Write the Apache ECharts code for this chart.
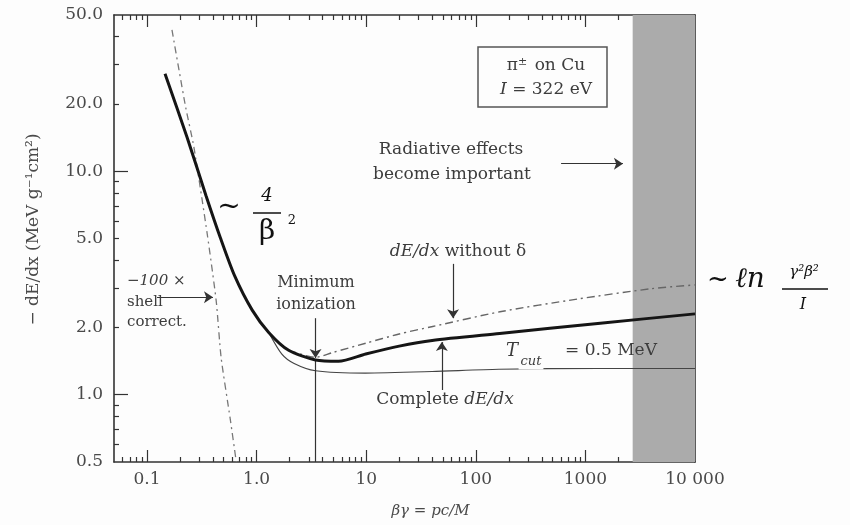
<!DOCTYPE html>
<html><head><meta charset="utf-8">
<script src="https://cdn.jsdelivr.net/npm/echarts@6/dist/echarts.min.js"></script>
<style>html,body{margin:0;padding:0;background:#fdfdfd}#c{width:850px;height:525px}</style>
</head><body><div id="c"></div>
<script>
// ---- tick positions and labels ----
const xTickValues = [0.1, 1, 10, 100, 1000, 10000];
const xTickLabels = ['0.1', '1.0', '10', '100', '1000', '10 000'];
const xMajorTicks = [0.1, 1, 10, 100, 1000];
const xMinorTicks = [0.06,0.07,0.08,0.09,0.2,0.3,0.4,0.5,0.6,0.7,0.8,0.9,2,3,4,5,6,7,8,9,20,30,40,50,60,70,80,90,200,300,400,500,600,700,800,900,2000,3000,4000,5000,6000,7000,8000,9000];
const yTickValues = [0.5, 1, 2, 5, 10, 20, 50];
const yTickLabels = ['0.5', '1.0', '2.0', '5.0', '10.0', '20.0', '50.0'];
const yMajorTicks = [1, 10];
const yMinorTicks = [0.6,0.7,0.8,0.9,2,3,4,5,6,7,8,9,20,30,40];

// ---- curves: [βγ, -dE/dx] ----
const completeDEdx = [[0.146,27.3],[0.232,14.2],[0.345,7.79],[0.467,5.04],[0.631,3.40],[0.912,2.39],[1.29,1.90],[1.96,1.58],[3.45,1.43],[5.6,1.41],[9.9,1.52],[20,1.65],[40,1.75],[165,1.88],[1367,2.09],[10000,2.30]];
const withoutDelta = [[1.96,1.58],[3.45,1.47],[4.84,1.54],[9.9,1.70],[20,1.87],[40.5,2.02],[166,2.35],[850,2.68],[3980,2.98],[10000,3.10]];
const restrictedTcut = [[1.29,1.90],[1.7,1.52],[2.2,1.38],[3.45,1.28],[9.8,1.25],[40,1.27],[162,1.30],[1320,1.31],[10000,1.31]];
const shellCorrection = [[0.169,42.9],[0.225,19.4],[0.268,12.8],[0.355,5.21],[0.428,2.63],[0.475,1.46],[0.573,0.787],[0.653,0.5]];
const radiativeRegion = [2700, 10000];
const minIonization = 3.45;

const FONT = 'DejaVu Serif';
const TXT = '#3c3c3c';
const AX = '#333';

function nearestLabel(v, vals, labels) {
  let best = 0, bd = Infinity;
  vals.forEach((t, i) => { const d = Math.abs(Math.log10(v) - Math.log10(t)); if (d < bd) { bd = d; best = i; } });
  return labels[best];
}
function xAx(pos, ticks, len, withLabels, showLine) {
  return {
    type: 'log', min: 0.05, max: 10000, position: pos,
    axisLine: { show: showLine, lineStyle: { color: AX, width: 1.6 } },
    axisTick: { show: true, inside: true, length: len, customValues: ticks, lineStyle: { color: AX, width: 1.2 } },
    axisLabel: withLabels ? { show: true, customValues: xTickValues, margin: 9, color: '#4a4a4a', fontFamily: FONT, fontSize: 17,
      formatter: v => nearestLabel(v, xTickValues, xTickLabels) } : { show: false },
    splitLine: { show: false }, minorTick: { show: false }
  };
}
function yAx(pos, ticks, len, withLabels, showLine) {
  return {
    type: 'log', min: 0.5, max: 50, position: pos,
    axisLine: { show: showLine, lineStyle: { color: AX, width: 1.6 } },
    axisTick: { show: true, inside: true, length: len, customValues: ticks, lineStyle: { color: AX, width: 1.2 } },
    axisLabel: withLabels ? { show: true, customValues: yTickValues, margin: 11, color: '#4a4a4a', fontFamily: FONT, fontSize: 17,
      formatter: v => nearestLabel(v, yTickValues, yTickLabels) } : { show: false },
    splitLine: { show: false }, minorTick: { show: false }
  };
}
function txt(x, y, text, size, extra) {
  return { type: 'text', x: x, y: y, silent: true, z: 100,
    style: Object.assign({ text: text, fontSize: size, fontFamily: FONT, fill: TXT, align: 'center', verticalAlign: 'middle' }, extra || {}) };
}
const italic = { fontStyle: 'italic', fontFamily: FONT };

const chart = echarts.init(document.getElementById('c'), null, { renderer: 'canvas' });
const curveCommon = { type: 'line', showSymbol: false, smooth: 0.25, silent: true };
chart.setOption({
  animation: false,
  backgroundColor: '#fdfdfd',
  grid: { left: 114, top: 15, width: 581, height: 447, containLabel: false },
  xAxis: [
    Object.assign(xAx('bottom', xMajorTicks, 12, true, true), {
      name: 'βγ = pc/M', nameLocation: 'middle', nameGap: 42,
      nameTextStyle: { fontFamily: FONT, fontStyle: 'italic', fontSize: 15, color: '#4a4a4a', padding: [0, 0, 0, 52] } }),
    xAx('bottom', xMinorTicks, 5, false, false),
    xAx('top', xMajorTicks, 12, false, true),
    xAx('top', xMinorTicks, 5, false, false)
  ],
  yAxis: [
    Object.assign(yAx('left', yMajorTicks, 14, true, true), {
      name: '− dE/dx (MeV g⁻¹cm²)', nameLocation: 'middle', nameGap: 72, nameRotate: 90,
      nameTextStyle: { fontFamily: FONT, fontSize: 17, color: '#4a4a4a', padding: [0, 0, 0, 18] } }),
    yAx('left', yMinorTicks, 5, false, false),
    yAx('right', yMajorTicks, 14, false, true),
    yAx('right', yMinorTicks, 5, false, false)
  ],
  series: [
    {
      name: 'Radiative region', type: 'line', data: [], silent: true,
      markArea: { silent: true, itemStyle: { color: '#ababab', opacity: 1 },
        data: [[{ xAxis: radiativeRegion[0] }, { xAxis: radiativeRegion[1] }]] }
    },
    Object.assign({}, curveCommon, {
      name: '-100 × shell correction', data: shellCorrection, smooth: 0.2,
      lineStyle: { color: '#777', width: 1.3, type: [7, 4, 2, 4] }, z: 3 }),
    Object.assign({}, curveCommon, {
      name: 'dE/dx without δ', data: withoutDelta,
      lineStyle: { color: '#666', width: 1.4, type: [8, 4, 2, 4] }, z: 3 }),
    Object.assign({}, curveCommon, {
      name: 'T_cut = 0.5 MeV', data: restrictedTcut,
      lineStyle: { color: '#444', width: 1.2 }, z: 4 }),
    Object.assign({}, curveCommon, {
      name: 'Complete dE/dx', data: completeDEdx,
      lineStyle: { color: '#151515', width: 3 }, z: 5 }),
    {
      name: 'annotations', type: 'line', data: [], silent: true, z: 6,
      markLine: {
        silent: true, symbol: ['none', 'arrow'], symbolSize: 9, label: { show: false },
        lineStyle: { color: '#333', width: 1.2, type: 'solid' }, emphasis: { disabled: true },
        data: [
          [{ coord: [minIonization, 2.2] }, { coord: [minIonization, 1.46] }],
          [{ coord: [minIonization, 1.42], symbol: 'none' }, { coord: [minIonization, 0.5], symbol: 'none' }],
          [{ coord: [62, 3.85] }, { coord: [62, 2.2] }],
          [{ coord: [49, 1.05] }, { coord: [49, 1.72] }],
          [{ coord: [0.1235, 2.73] }, { coord: [0.40, 2.73] }],
          [{ coord: [600, 10.8] }, { coord: [2200, 10.8] }]
        ]
      }
    }
  ],
  graphic: [
    { type: 'rect', silent: true, z: 100, shape: { x: 478, y: 47, width: 129, height: 60 }, style: { fill: 'none', stroke: '#555', lineWidth: 1.5 } },
    txt(546, 66, '{i|π}{s|±} on Cu', 17, { rich: { i: { fontFamily: FONT, fontSize: 17, fill: TXT }, s: { fontFamily: FONT, fontSize: 11, fill: TXT, verticalAlign: 'top', padding: [0, 2, 8, 0] } } }),
    txt(546, 90, '{i|I} = 322 eV', 17, { rich: { i: Object.assign({ fontSize: 17, fill: TXT }, italic) } }),
    txt(451, 150, 'Radiative effects', 17),
    txt(452, 175, 'become important', 17),
    txt(458, 252, '{i|dE/dx} without δ', 17, { rich: { i: Object.assign({ fontSize: 17, fill: TXT }, italic) } }),
    txt(316, 283, 'Minimum', 16),
    txt(316, 305, 'ionization', 16),
    txt(445, 400, 'Complete {i|dE/dx}', 17, { rich: { i: Object.assign({ fontSize: 17, fill: TXT }, italic) } }),
    txt(512, 351, 'T', 18, Object.assign({ fill: TXT }, italic)),
    txt(531, 362, 'cut', 13, Object.assign({ fill: TXT, backgroundColor: '#fdfdfd', padding: [1, 2] }, italic)),
    txt(611, 351, '= 0.5 MeV', 17),
    txt(127, 281, '−100 ×', 15, Object.assign({ align: 'left' }, italic)),
    txt(127, 302, 'shell', 15, { align: 'left' }),
    txt(127, 322, 'correct.', 15, { align: 'left' }),
    txt(229, 208, '~', 28, { fill: '#111' }),
    txt(267, 196, '4', 18, Object.assign({ fill: '#111' }, italic)),
    { type: 'line', silent: true, z: 100, shape: { x1: 253, y1: 213, x2: 281, y2: 213 }, style: { stroke: '#111', lineWidth: 1.5 } },
    txt(267, 232, 'β', 28, { fill: '#111' }),
    txt(292, 221, '2', 13, { fill: '#111' }),
    txt(718, 280, '~', 26, { fill: '#111' }),
    txt(750, 280, 'ℓn', 28, Object.assign({ fill: '#111' }, italic)),
    txt(804, 272, 'γ²β²', 15, Object.assign({ fill: '#111' }, italic)),
    { type: 'line', silent: true, z: 100, shape: { x1: 782, y1: 289, x2: 828, y2: 289 }, style: { stroke: '#111', lineWidth: 1.3 } },
    txt(803, 305, 'I', 16, Object.assign({ fill: '#111' }, italic))
  ]
});
</script>
</body></html>
